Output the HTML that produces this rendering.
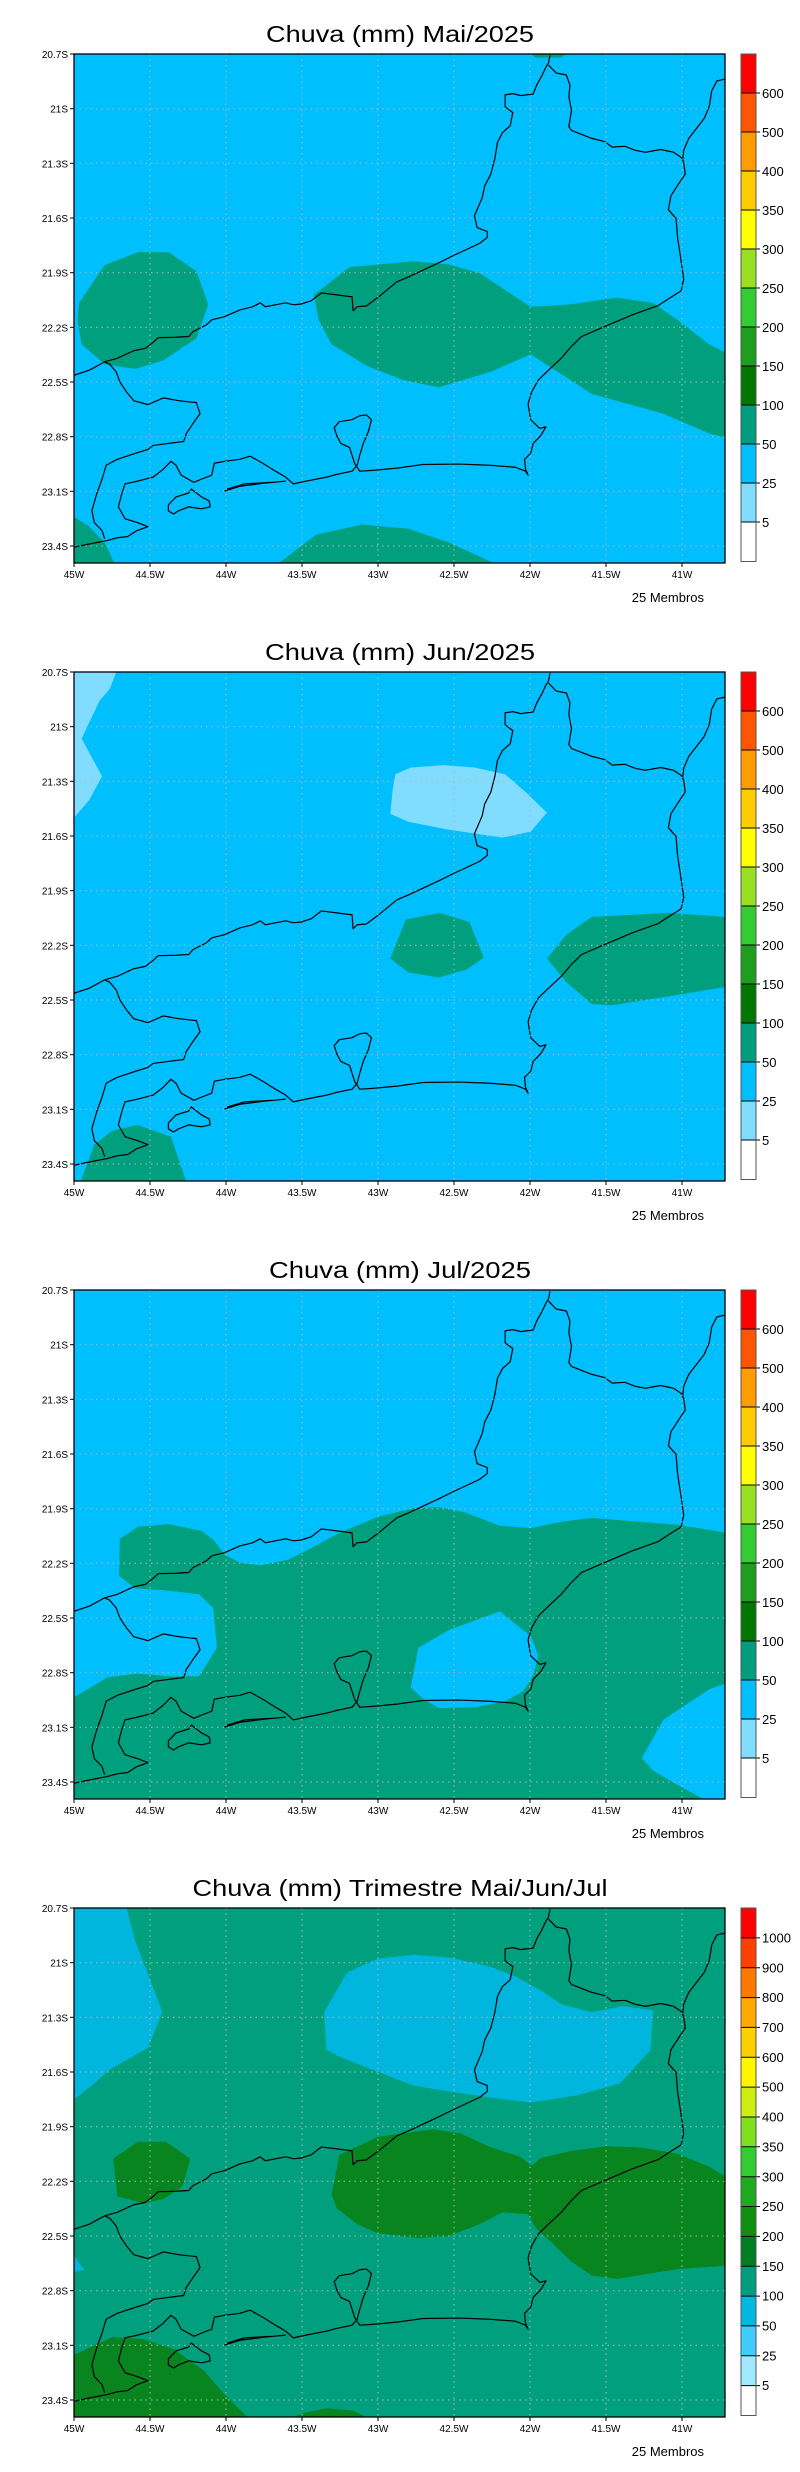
<!DOCTYPE html>
<html><head><meta charset="utf-8"><style>
html,body{margin:0;padding:0;background:#fff;}
svg{display:block;}
text{font-family:"Liberation Sans",sans-serif;}
</style></head><body>
<svg width="800" height="2472" viewBox="0 0 800 2472" xmlns="http://www.w3.org/2000/svg">
<defs>
<clipPath id="cp"><rect x="145" y="137" width="1277" height="1286"/></clipPath>
<g id="coast" fill="none" stroke="#000" stroke-width="1.2" stroke-linejoin="round">
<path vector-effect="non-scaling-stroke" d="M145,948 L175,935 205,914 230,905 262,886 285,880 300,865 310,853 345,852 370,850 378,838 405,820 415,808 440,800 470,783 495,775 510,765 520,775 540,770 560,765 575,770 590,768 610,760 630,740 660,745 690,750 692,785 700,775 718,773 740,752 778,712 800,700 820,688 860,664 890,645 940,615 955,600 955,585 935,575 930,545 945,500 950,470 962,440 970,400 975,360 985,335 1000,318 1005,285 990,270 990,240 1005,237 1020,242 1045,238 1052,215 1062,192 1070,170 1075,160 1078,140"/>
<path vector-effect="non-scaling-stroke" d="M1075,165 L1090,185 1110,190 1117,215 1115,245 1120,280 1115,320 1120,330 1140,340 1160,350 1185,358 1200,372 1225,370 1245,380 1265,385 1295,378 1320,385 1335,398 1340,410 1343,440 1330,465 1315,495 1310,530 1325,552 1328,600 1335,660 1340,705 1335,735 1310,755 1290,772 1240,795 1185,825 1140,850 1120,875 1100,905 1075,935 1055,960 1042,990 1035,1020 1040,1060 1058,1082 1070,1078 1060,1100 1045,1120 1040,1145 1028,1160 1030,1185 1035,1200 1030,1190 1010,1180 960,1175 900,1172 830,1173 780,1182 730,1188 705,1190 695,1170 690,1150 685,1130 668,1120 660,1100 655,1080 665,1065 690,1060 705,1050 718,1048 728,1060 722,1090 712,1120 705,1150 700,1175 690,1190 660,1198 640,1205 600,1215 575,1222 560,1205 540,1190 515,1170 490,1152 470,1160 440,1165 420,1170 415,1200 395,1210 380,1218 355,1200 345,1175 335,1165 320,1185 300,1205 270,1215 245,1222 238,1250 232,1280 245,1310 270,1320 290,1330 268,1340 250,1355 230,1358 210,1365 190,1370 170,1375 145,1382"/>
<path vector-effect="non-scaling-stroke" d="M205,914 L215,920 228,940 235,965 248,990 262,1012 290,1022 320,1005 350,1012 385,1017 392,1045 378,1070 365,1095 360,1115 330,1120 300,1125 290,1135 265,1145 230,1160 208,1175 200,1210 190,1245 180,1290 185,1320 200,1340 205,1360"/>
<path vector-effect="non-scaling-stroke" d="M1422,200 L1405,205 1395,230 1390,270 1380,300 1365,325 1350,350 1340,380 1338,405"/>
<path vector-effect="non-scaling-stroke" d="M440,1240 L470,1228 520,1220 560,1215 M445,1235 L480,1222 530,1218"/>
<path vector-effect="non-scaling-stroke" d="M330,1275 L345,1255 370,1245 375,1235 395,1255 410,1265 412,1280 395,1285 370,1280 350,1290 340,1298 330,1290 Z"/>
</g>
<g id="grid" stroke="#b8b8b8" stroke-width="1" stroke-dasharray="1.5,4">
<line x1="150" y1="54" x2="150" y2="563"/><line x1="226" y1="54" x2="226" y2="563"/><line x1="302" y1="54" x2="302" y2="563"/><line x1="378" y1="54" x2="378" y2="563"/><line x1="454" y1="54" x2="454" y2="563"/><line x1="530" y1="54" x2="530" y2="563"/><line x1="606" y1="54" x2="606" y2="563"/><line x1="682" y1="54" x2="682" y2="563"/>
<line x1="74" y1="108.7" x2="725" y2="108.7"/><line x1="74" y1="163.3" x2="725" y2="163.3"/><line x1="74" y1="218" x2="725" y2="218"/><line x1="74" y1="272.7" x2="725" y2="272.7"/><line x1="74" y1="327.3" x2="725" y2="327.3"/><line x1="74" y1="382" x2="725" y2="382"/><line x1="74" y1="436.7" x2="725" y2="436.7"/><line x1="74" y1="491.3" x2="725" y2="491.3"/><line x1="74" y1="546" x2="725" y2="546"/>
</g>
<g id="axes">
<rect x="74" y="54" width="651" height="509" fill="none" stroke="#000" stroke-width="1.3"/>
<g stroke="#000" stroke-width="1"><line x1="70" y1="54" x2="74" y2="54"/><line x1="70" y1="108.7" x2="74" y2="108.7"/><line x1="70" y1="163.3" x2="74" y2="163.3"/><line x1="70" y1="218" x2="74" y2="218"/><line x1="70" y1="272.7" x2="74" y2="272.7"/><line x1="70" y1="327.3" x2="74" y2="327.3"/><line x1="70" y1="382" x2="74" y2="382"/><line x1="70" y1="436.7" x2="74" y2="436.7"/><line x1="70" y1="491.3" x2="74" y2="491.3"/><line x1="70" y1="546" x2="74" y2="546"/>
<line x1="74" y1="563" x2="74" y2="567"/><line x1="150" y1="563" x2="150" y2="567"/><line x1="226" y1="563" x2="226" y2="567"/><line x1="302" y1="563" x2="302" y2="567"/><line x1="378" y1="563" x2="378" y2="567"/><line x1="454" y1="563" x2="454" y2="567"/><line x1="530" y1="563" x2="530" y2="567"/><line x1="606" y1="563" x2="606" y2="567"/><line x1="682" y1="563" x2="682" y2="567"/></g>
<g font-size="10" text-anchor="end" fill="#000"><text x="68" y="58">20.7S</text><text x="68" y="112.7">21S</text><text x="68" y="167.3">21.3S</text><text x="68" y="222">21.6S</text><text x="68" y="276.7">21.9S</text><text x="68" y="331.3">22.2S</text><text x="68" y="386">22.5S</text><text x="68" y="440.7">22.8S</text><text x="68" y="495.3">23.1S</text><text x="68" y="550">23.4S</text></g>
<g font-size="10" text-anchor="middle" fill="#000"><text x="74" y="578">45W</text><text x="150" y="578">44.5W</text><text x="226" y="578">44W</text><text x="302" y="578">43.5W</text><text x="378" y="578">43W</text><text x="454" y="578">42.5W</text><text x="530" y="578">42W</text><text x="606" y="578">41.5W</text><text x="682" y="578">41W</text></g>
<text x="704" y="602" font-size="13" text-anchor="end" fill="#000">25 Membros</text>
</g>
<g id="cb1">
<rect x="741" y="54" width="15" height="39.04" fill="#FF0000"/><rect x="741" y="93.04" width="15" height="39.04" fill="#FF5500"/><rect x="741" y="132.08" width="15" height="39.04" fill="#FF9C00"/><rect x="741" y="171.12" width="15" height="39.04" fill="#FFCC00"/><rect x="741" y="210.16" width="15" height="39.04" fill="#FFFF00"/><rect x="741" y="249.2" width="15" height="39.04" fill="#99E020"/><rect x="741" y="288.24" width="15" height="39.04" fill="#33CC33"/><rect x="741" y="327.28" width="15" height="39.04" fill="#1E9E1E"/><rect x="741" y="366.32" width="15" height="39.04" fill="#007800"/><rect x="741" y="405.36" width="15" height="39.04" fill="#009E7E"/><rect x="741" y="444.4" width="15" height="39.04" fill="#00BFFF"/><rect x="741" y="483.44" width="15" height="39.04" fill="#80DDFF"/><rect x="741" y="522.48" width="15" height="39.04" fill="#FFFFFF"/>
<g stroke="#000" stroke-width="1"><line x1="741" y1="93" x2="760" y2="93"/><line x1="741" y1="132" x2="760" y2="132"/><line x1="741" y1="171" x2="760" y2="171"/><line x1="741" y1="210" x2="760" y2="210"/><line x1="741" y1="249" x2="760" y2="249"/><line x1="741" y1="288" x2="760" y2="288"/><line x1="741" y1="327" x2="760" y2="327"/><line x1="741" y1="366" x2="760" y2="366"/><line x1="741" y1="405" x2="760" y2="405"/><line x1="741" y1="444" x2="760" y2="444"/><line x1="741" y1="483" x2="760" y2="483"/><line x1="741" y1="522" x2="760" y2="522"/></g>
<rect x="741" y="54" width="15" height="507.5" fill="none" stroke="#555" stroke-width="1"/>
<g font-size="13" fill="#000"><text x="762" y="98">600</text><text x="762" y="137">500</text><text x="762" y="176">400</text><text x="762" y="215">350</text><text x="762" y="254">300</text><text x="762" y="293">250</text><text x="762" y="332">200</text><text x="762" y="371">150</text><text x="762" y="410">100</text><text x="762" y="449">50</text><text x="762" y="488">25</text><text x="762" y="527">5</text></g>
</g>
</defs>

<!-- Panel 1 -->
<g>
<text x="400" y="42" font-size="23" text-anchor="middle" textLength="268" lengthAdjust="spacingAndGlyphs">Chuva (mm) Mai/2025</text>
<g transform="translate(74,54) scale(0.5102,0.3962) translate(-145,-137)" clip-path="url(#cp)">
<rect x="145" y="137" width="1277" height="1286" fill="#00BFFF"/>
<g fill="#00A07F">
<polygon points="155,765 205,670 270,637 330,637 385,685 408,770 385,855 320,910 265,932 205,920 160,870 152,810"/>
<polygon points="615,745 685,675 810,660 880,668 940,690 1040,775 1110,770 1210,752 1280,765 1330,810 1390,870 1422,890 1422,1105 1390,1095 1300,1045 1160,995 1040,895 960,940 860,978 790,960 720,925 650,870 625,810"/>
<polygon points="1040,137 1110,137 1100,146 1050,146"/>
<polygon points="545,1423 620,1350 710,1325 800,1335 880,1370 970,1423"/>
<polygon points="145,1305 175,1330 205,1370 225,1423 145,1423"/>
</g>
<use href="#coast"/>
</g>
<use href="#grid"/><use href="#axes"/><use href="#cb1"/>
</g>

<!-- Panel 2 -->
<g transform="translate(0,618)">
<text x="400" y="42" font-size="23" text-anchor="middle" textLength="270" lengthAdjust="spacingAndGlyphs">Chuva (mm) Jun/2025</text>
<g transform="translate(74,54) scale(0.5102,0.3962) translate(-145,-137)" clip-path="url(#cp)">
<rect x="145" y="137" width="1277" height="1286" fill="#00BFFF"/>
<g fill="#80DDFF">
<polygon points="145,137 228,137 215,180 195,210 160,305 200,400 175,460 145,505"/>
<polygon points="775,395 805,378 870,372 930,378 990,395 1030,440 1072,492 1040,540 985,555 880,535 800,515 765,495 770,430"/>
</g>
<g fill="#00A07F">
<polygon points="795,762 862,745 920,768 948,858 915,888 860,908 800,895 765,860"/>
<polygon points="1072,860 1110,800 1160,755 1310,745 1422,755 1422,932 1300,958 1200,978 1160,975 1110,920"/>
<polygon points="158,1423 185,1330 220,1295 270,1280 335,1310 365,1423"/>
</g>
<use href="#coast"/>
</g>
<use href="#grid"/><use href="#axes"/><use href="#cb1"/>
</g>

<!-- Panel 3 -->
<g transform="translate(0,1236)">
<text x="400" y="42" font-size="23" text-anchor="middle" textLength="262" lengthAdjust="spacingAndGlyphs">Chuva (mm) Jul/2025</text>
<g transform="translate(74,54) scale(0.5102,0.3962) translate(-145,-137)" clip-path="url(#cp)">
<rect x="145" y="137" width="1277" height="1286" fill="#00BFFF"/>
<polygon fill="#00A07F" points="145,1165 210,1115 270,1105 330,1112 390,1112 425,1040 418,940 390,905 325,895 265,890 233,858 235,765 270,735 330,728 395,745 420,770 440,805 470,825 510,832 565,818 600,795 665,750 740,710 810,688 860,685 910,698 980,732 1040,738 1100,722 1160,712 1330,730 1390,742 1422,750 1422,1130 1390,1145 1300,1222 1258,1318 1280,1350 1320,1380 1380,1423 145,1423"/>
<polygon fill="#00BFFF" points="820,1040 880,995 980,948 1000,970 1040,1010 1055,1060 1045,1110 1025,1150 990,1175 930,1190 860,1192 830,1170 805,1140"/>
<use href="#coast"/>
</g>
<use href="#grid"/><use href="#axes"/><use href="#cb1"/>
</g>

<!-- Panel 4 -->
<g transform="translate(0,1854)">
<text x="400" y="42" font-size="23" text-anchor="middle" textLength="415" lengthAdjust="spacingAndGlyphs">Chuva (mm) Trimestre Mai/Jun/Jul</text>
<g transform="translate(74,54) scale(0.5102,0.3962) translate(-145,-137)" clip-path="url(#cp)">
<rect x="145" y="137" width="1277" height="1286" fill="#00A07F"/>
<g fill="#00B6DE">
<polygon points="145,137 248,137 265,220 295,320 318,400 290,490 215,545 175,590 145,620"/>
<polygon points="635,400 680,300 740,265 810,255 880,262 960,285 1010,310 1060,345 1100,380 1160,400 1220,385 1280,395 1275,495 1215,580 1130,610 1040,628 960,615 880,600 810,585 740,550 670,515 640,495"/>
<polygon points="145,1015 165,1050 145,1055"/>
</g>
<g fill="#08851F">
<polygon points="222,770 270,727 325,727 373,770 358,840 320,872 280,882 230,865"/>
<polygon points="665,760 740,715 850,695 905,707 960,740 1020,765 1042,788 1060,768 1120,750 1190,738 1260,742 1330,758 1390,790 1422,815 1422,1040 1330,1048 1210,1073 1160,1065 1120,1030 1080,980 1050,945 1035,910 985,905 940,935 880,965 820,970 740,958 700,935 660,895 650,860"/>
<polygon points="145,1265 220,1220 280,1225 340,1250 400,1305 440,1365 490,1428 145,1428"/>
<polygon points="560,1428 600,1410 640,1400 690,1405 730,1428"/>
</g>
<use href="#coast"/>
</g>
<use href="#grid"/><use href="#axes"/>
<g>
<rect x="741" y="54" width="15" height="29.85" fill="#FF0000"/><rect x="741" y="83.85" width="15" height="29.85" fill="#FF4000"/><rect x="741" y="113.7" width="15" height="29.85" fill="#FF7800"/><rect x="741" y="143.55" width="15" height="29.85" fill="#FFAA00"/><rect x="741" y="173.4" width="15" height="29.85" fill="#FFD000"/><rect x="741" y="203.25" width="15" height="29.85" fill="#FFF500"/><rect x="741" y="233.1" width="15" height="29.85" fill="#CCEE10"/><rect x="741" y="262.95" width="15" height="29.85" fill="#80E020"/><rect x="741" y="292.8" width="15" height="29.85" fill="#33CC33"/><rect x="741" y="322.65" width="15" height="29.85" fill="#20AA20"/><rect x="741" y="352.5" width="15" height="29.85" fill="#109010"/><rect x="741" y="382.35" width="15" height="29.85" fill="#007F20"/><rect x="741" y="412.2" width="15" height="29.85" fill="#009E7E"/><rect x="741" y="442.05" width="15" height="29.85" fill="#00B8E0"/><rect x="741" y="471.9" width="15" height="29.85" fill="#40CCFF"/><rect x="741" y="501.75" width="15" height="29.85" fill="#A0E8FF"/><rect x="741" y="531.6" width="15" height="29.85" fill="#FFFFFF"/>
<g stroke="#000" stroke-width="1"><line x1="741" y1="83.9" x2="760" y2="83.9"/><line x1="741" y1="113.7" x2="760" y2="113.7"/><line x1="741" y1="143.6" x2="760" y2="143.6"/><line x1="741" y1="173.4" x2="760" y2="173.4"/><line x1="741" y1="203.3" x2="760" y2="203.3"/><line x1="741" y1="233.1" x2="760" y2="233.1"/><line x1="741" y1="263" x2="760" y2="263"/><line x1="741" y1="292.8" x2="760" y2="292.8"/><line x1="741" y1="322.7" x2="760" y2="322.7"/><line x1="741" y1="352.5" x2="760" y2="352.5"/><line x1="741" y1="382.4" x2="760" y2="382.4"/><line x1="741" y1="412.2" x2="760" y2="412.2"/><line x1="741" y1="442.1" x2="760" y2="442.1"/><line x1="741" y1="471.9" x2="760" y2="471.9"/><line x1="741" y1="501.8" x2="760" y2="501.8"/><line x1="741" y1="531.6" x2="760" y2="531.6"/></g>
<rect x="741" y="54" width="15" height="507.5" fill="none" stroke="#555" stroke-width="1"/>
<g font-size="13" fill="#000"><text x="762" y="88.5">1000</text><text x="762" y="118.3">900</text><text x="762" y="148.2">800</text><text x="762" y="178">700</text><text x="762" y="207.9">600</text><text x="762" y="237.7">500</text><text x="762" y="267.6">400</text><text x="762" y="297.4">350</text><text x="762" y="327.3">300</text><text x="762" y="357.1">250</text><text x="762" y="387">200</text><text x="762" y="416.8">150</text><text x="762" y="446.7">100</text><text x="762" y="476.5">50</text><text x="762" y="506.4">25</text><text x="762" y="536.2">5</text></g>
</g>
</g>
</svg>
</body></html>
